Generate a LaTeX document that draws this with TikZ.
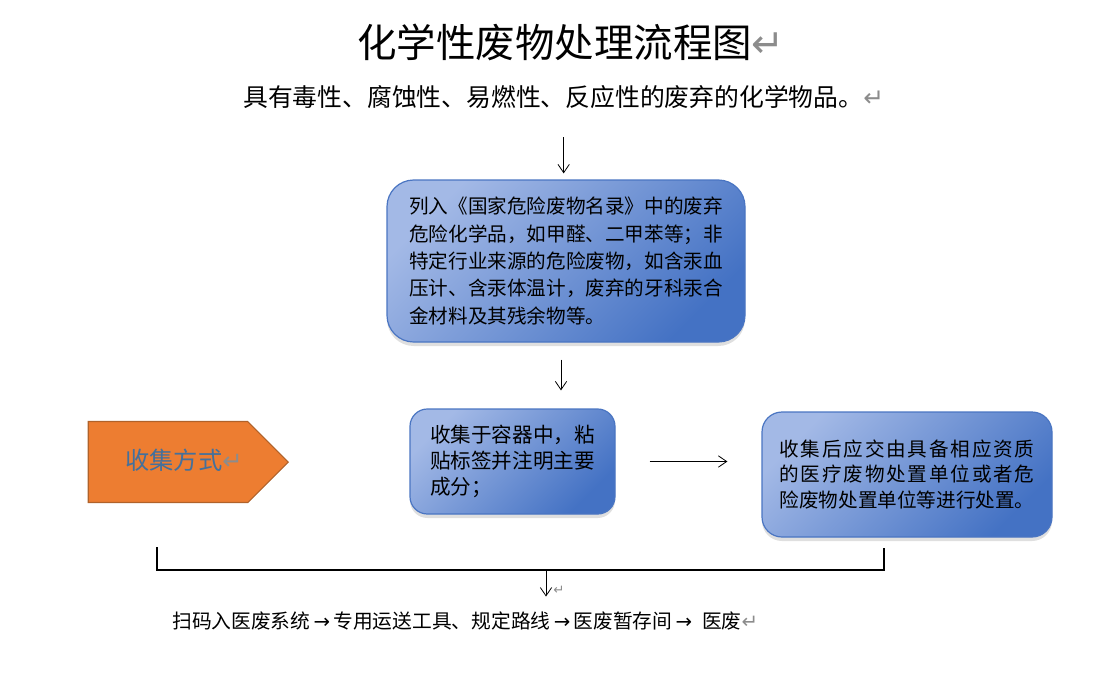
\documentclass[tikz,border=0pt]{standalone}
\usepackage{fontspec}
\usepackage{xcolor}
\usepackage{tikz}
\usetikzlibrary{arrows.meta,positioning,shapes.symbols,shadows,calc}
\setmainfont{Noto Sans CJK SC}
\newfontfamily\symfont{DejaVu Sans}
\definecolor{flowlight}{HTML}{A3B9E6}
\definecolor{flowdark}{HTML}{4472C4}
\definecolor{flowedge}{HTML}{4A75C2}
\definecolor{tagorange}{HTML}{ED7D31}
\definecolor{tagedge}{HTML}{B0622A}
\definecolor{tagtext}{HTML}{44709C}
\definecolor{markgray}{HTML}{8C8C8C}
\newcommand\retmark{{\symfont\color{markgray}↵}}
\newcommand\nextstep{{\symfont →}}
\def\dropone#1{}
\def\spreadloop#1#2{#1\ifx\relax#2\expandafter\dropone\else\hfill\expandafter\spreadloop\fi#2}
\newcommand\fullline[2]{\makebox[#1][l]{\spreadloop#2\relax}}
\tikzset{
  plaintext/.style={inner sep=0pt, anchor=west},
  infobox/.style={draw=flowedge, line width=0.9pt, top color=flowlight, bottom color=flowdark, shading angle=45, drop shadow={shadow xshift=0pt, shadow yshift=-3pt, opacity=.25}, align=left, inner sep=0pt},
  tag/.style={signal, signal to=east, signal pointer angle=90, draw=tagedge, fill=tagorange, line width=0.8pt, inner sep=0pt, text=tagtext},
  arrow/.style={-{Straight Barb[length=2.2mm,width=3mm]}, line width=0.6pt},
  bracketline/.style={line width=0.9pt}
}
\begin{document}
\begin{tikzpicture}[x=0.75pt, y=-0.75pt]
  \useasboundingbox (0,0) rectangle (1097,672);
  \node[plaintext, font=\fontsize{29.6}{30}\selectfont] (title) at (357,42) {化学性废物处理流程图\retmark};
  \node[plaintext, font=\fontsize{18.6}{20}\selectfont] (scope) at (243,97) {具有毒性、腐蚀性、易燃性、反应性的废弃的化学物品。\retmark};
  \node[infobox, rounded corners=20pt, minimum width=268.5pt, minimum height=121.5pt, font=\fontsize{14.7}{20.6}\selectfont] (catalog) at (566,261) {列入《国家危险废物名录》中的废弃\\危险化学品，如甲醛、二甲苯等；非\\特定行业来源的危险废物，如含汞血\\压计、含汞体温计，废弃的牙科汞合\\金材料及其残余物等。};
  \node[tag, minimum width=150pt, minimum height=60.75pt, font=\fontsize{18.2}{20}\selectfont] (method) at (168,462) {\hspace*{24pt}\raisebox{3.5pt}{收集方式\retmark}};
  \node[infobox, rounded corners=13pt, minimum width=153.75pt, minimum height=78.75pt, font=\fontsize{15.45}{19.5}\selectfont] (container) at (512.5,461.5) {收集于容器中，粘\\贴标签并注明主要\\成分；};
  \node[infobox, rounded corners=15pt, minimum width=217.5pt, minimum height=93.75pt, font=\fontsize{14.7}{19.1}\selectfont] (disposal) at (907,474.5) {\fullline{191.1pt}{收集后应交由具备相应资质}\\\fullline{191.1pt}{的医疗废物处置单位或者危}\\险废物处置单位等进行处置。};
  \node[plaintext, font=\fontsize{14.8}{16}\selectfont] (route) at (172,621) {扫码入医废系统\,\nextstep\,专用运送工具、规定路线\,\nextstep\,医废暂存间\,\nextstep\enspace 医废\retmark};
  \coordinate (leftend) at (157,547);
  \coordinate (rightend) at (884,548);
  \coordinate (join) at (546,570);
  \node[plaintext, font=\fontsize{10}{10}\selectfont] (joinmark) at (553,590) {\retmark};

  \draw[arrow, shorten <=21.4pt, shorten >=4.5pt] (scope.south) -- (scope.south |- catalog.north);
  \draw[arrow, shorten <=12.75pt, shorten >=13.5pt] ([xshift=-3.75pt]catalog.south) -- ([xshift=-3.75pt]catalog.south |- container.north);
  \draw[arrow, shorten <=25.5pt, shorten >=25.5pt] (container.east) -- (container.east -| disposal.west);
  \draw[bracketline] (leftend) -- ++(0,23) -| (rightend);
  \draw[arrow, shorten >=11.25pt] (join) -- (join |- route.north);
\end{tikzpicture}
\end{document}
